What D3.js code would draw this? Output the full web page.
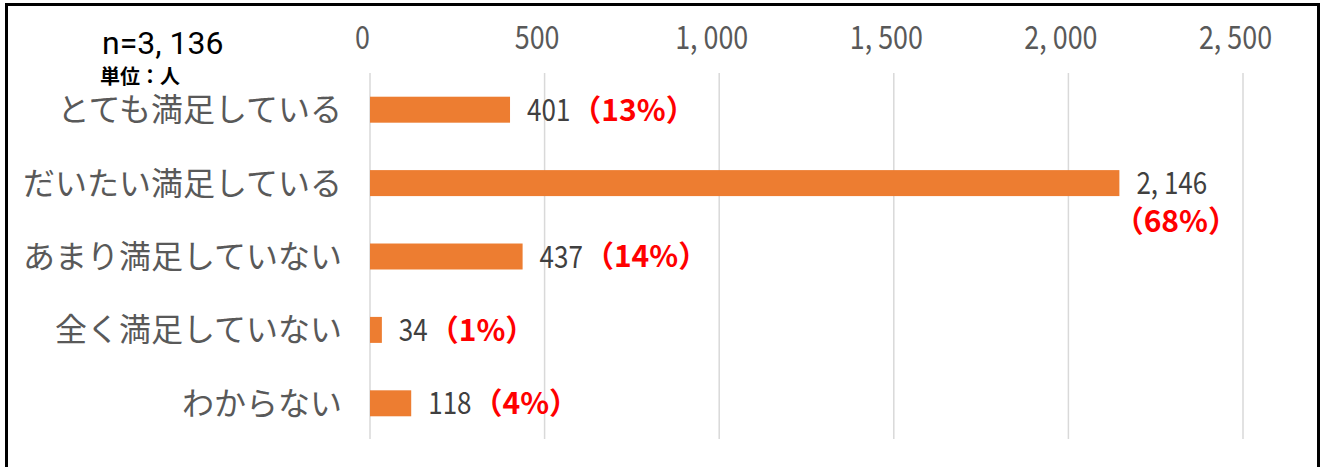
<!DOCTYPE html>
<html>
<head>
<meta charset="utf-8">
<script src="https://cdn.jsdelivr.net/npm/d3@7"></script>
<style>
  html, body { margin: 0; padding: 0; background: #fff; }
  svg { display: block; }
  text { font-family: "Noto Sans CJK JP", sans-serif; }
</style>
</head>
<body>
<div id="chart"></div>
<script>
// Satisfaction survey counts (persons)
const categories = ['とても満足している', 'だいたい満足している', 'あまり満足していない', '全く満足していない', 'わからない'];
const counts = [401, 2146, 437, 34, 118];
const percents = [13, 68, 14, 1, 4];
const xTicks = [0, 500, 1000, 1500, 2000, 2500];
const totalLabel = 'n=3, 136';
const unitLabel = '単位：人';

const W = 1324, H = 467;
const narrow = 0.84; // horizontal squeeze for the narrow numeric font
const fmt = v => d3.format(',')(v).replace(',', ', ');

const svg = d3.select('#chart').append('svg')
    .attr('width', W)
    .attr('height', H);

// Outer frame
svg.append('rect')
    .attr('x', 6.5).attr('y', 4.5)
    .attr('width', 1312).attr('height', 470)
    .style('fill', '#fff')
    .style('stroke', '#000')
    .style('stroke-width', 3);

const xScale = d3.scaleLinear()
    .domain([0, 2500])
    .range([370, 1243]);

const yScale = d3.scaleBand()
    .domain(categories)
    .range([73, 440])
    .paddingInner(0.646)
    .paddingOuter(0.323);

// Vertical gridlines
svg.append('g')
    .selectAll('line')
    .data(xTicks)
    .enter().append('line')
    .attr('x1', d => xScale(d)).attr('x2', d => xScale(d))
    .attr('y1', 73).attr('y2', 439)
    .style('stroke', '#d9d9d9')
    .style('stroke-width', 1.5);

// Top axis labels
const xAxis = svg.append('g')
    .attr('transform', 'translate(0,49)')
    .call(d3.axisTop(xScale).tickValues(xTicks).tickSize(0).tickPadding(0).tickFormat(fmt));
xAxis.select('.domain').remove();
xAxis.selectAll('text')
    .attr('x', -8 / narrow)
    .attr('transform', `scale(${narrow},1)`)
    .style('font-family', '"Noto Sans CJK JP", sans-serif')
    .style('font-size', '32px')
    .style('fill', '#595959');

// Category labels
svg.append('g')
    .selectAll('text')
    .data(categories)
    .enter().append('text')
    .attr('x', 342)
    .attr('y', d => yScale(d) + yScale.bandwidth() / 2)
    .attr('dy', '0.36em')
    .style('text-anchor', 'end')
    .style('font-size', '32px')
    .style('fill', '#595959')
    .text(d => d);

// Bars
svg.append('g')
    .selectAll('rect')
    .data(counts)
    .enter().append('rect')
    .attr('x', xScale(0))
    .attr('y', (d, i) => yScale(categories[i]))
    .attr('width', d => xScale(d) - xScale(0))
    .attr('height', yScale.bandwidth())
    .style('fill', '#ED7D31');

// Value + percent labels
const labels = svg.append('g');
counts.forEach((v, i) => {
    const cy = yScale(categories[i]) + yScale.bandwidth() / 2;
    const x0 = xScale(v) + 17;
    const num = labels.append('text')
        .attr('transform', `translate(${x0},${cy}) scale(${narrow},1)`)
        .attr('dy', '0.36em')
        .style('font-size', '31px')
        .style('fill', '#404040')
        .text(fmt(v));
    const numW = num.node().getComputedTextLength() * narrow;
    const pct = labels.append('text')
        .attr('x', x0 + numW + 1)
        .attr('y', cy)
        .attr('dy', '0.36em')
        .style('font-size', '30px')
        .style('font-weight', 'bold')
        .style('fill', '#ff0000')
        .text(`（${percents[i]}%）`);
    const pctW = pct.node().getComputedTextLength();
    if (x0 + numW + pctW > 1300) {
        // too wide for the frame: put the percent on a second line
        pct.attr('x', x0 + numW / 2 + 4)
            .attr('y', cy + 38)
            .style('text-anchor', 'middle');
    }
});

// Sample size and unit
svg.append('text')
    .attr('x', 102).attr('y', 42)
    .attr('dy', '0.36em')
    .style('font-family', 'Roboto, sans-serif')
    .style('font-size', '32px')
    .style('fill', '#000')
    .text(totalLabel);

svg.append('text')
    .attr('x', 100).attr('y', 77)
    .attr('dy', '0.36em')
    .style('font-size', '20px')
    .style('font-weight', 'bold')
    .style('fill', '#000')
    .text(unitLabel);
</script>
</body>
</html>
